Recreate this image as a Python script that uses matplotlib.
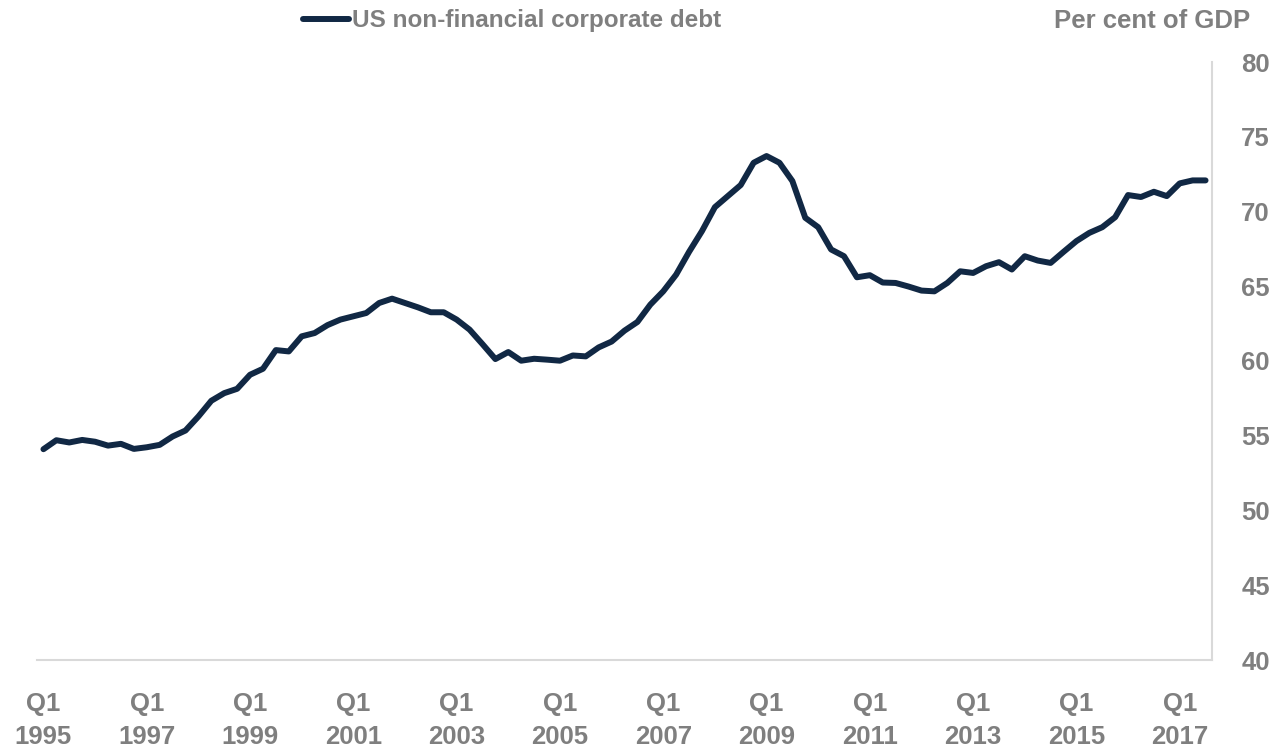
import numpy as np
import matplotlib.pyplot as plt

# US non-financial corporate debt, per cent of GDP, quarterly 1995 Q1 - 2017 Q3
debt = [54.1, 54.7, 54.55, 54.72, 54.6, 54.34, 54.46, 54.12, 54.23, 54.39,
        54.95, 55.35, 56.29, 57.34, 57.85, 58.14, 59.08, 59.48, 60.73, 60.64,
        61.65, 61.87, 62.4, 62.77, 62.99, 63.21, 63.88, 64.17, 63.88, 63.59,
        63.26, 63.26, 62.77, 62.1, 61.13, 60.13, 60.6, 60.02, 60.15, 60.09,
        60.02, 60.37, 60.31, 60.91, 61.3, 62.03, 62.61, 63.77, 64.66, 65.78,
        67.3, 68.69, 70.29, 71.03, 71.77, 73.26, 73.71, 73.26, 72.04, 69.58,
        68.95, 67.46, 67.01, 65.6, 65.74, 65.25, 65.22, 64.98, 64.71, 64.66,
        65.22, 66.0, 65.89, 66.34, 66.61, 66.12, 67.01, 66.72, 66.56, 67.3,
        68.02, 68.57, 68.95, 69.62, 71.1, 70.97, 71.32, 71.03, 71.88, 72.08,
        72.08]
quarters = [f'Q{q}\n{y}' for y in range(1995, 2018) for q in range(1, 5)][:len(debt)]
yticks = [40, 45, 50, 55, 60, 65, 70, 75, 80]

navy = '#112844'
grey = '#7f7f7f'
plt.rcParams['font.family'] = ['Liberation Sans', 'DejaVu Sans']
plt.rcParams['font.weight'] = 'bold'

fig = plt.figure(figsize=(12.79, 7.53), dpi=100)
ax = fig.add_axes([37/1279, 93/753, 1175/1279, 598/753])

x = np.arange(len(debt))
ax.plot(x, debt, color=navy, lw=4.3, solid_joinstyle='round',
        solid_capstyle='round', label='US non-financial corporate debt')

ax.set_xlim(-0.5, len(debt) - 0.5)
ax.set_ylim(40, 80)
ax.set_xticks(x[::8])
ax.set_xticklabels(quarters[::8], fontsize=18.5, color=grey, fontweight='bold',
                   linespacing=1.5)
ax.set_yticks(yticks)
ax.set_yticklabels([str(v) for v in yticks], fontsize=18.5, color=grey, fontweight='bold')
ax.yaxis.tick_right()
ax.tick_params(axis='both', length=0)
ax.tick_params(axis='x', pad=23)
ax.tick_params(axis='y', pad=21)

for s in ['left', 'top']:
    ax.spines[s].set_visible(False)
for s in ['bottom', 'right']:
    ax.spines[s].set_color('#d9d9d9')
    ax.spines[s].set_linewidth(1.5)

leg = fig.legend(loc='center left', bbox_to_anchor=(303/1279, 1 - 21/753),
                 frameon=False, fontsize=17.5, handlelength=1.9, handletextpad=0.1,
                 borderpad=0, borderaxespad=0)
for t in leg.get_texts():
    t.set_color(grey)
    t.set_fontweight('bold')

fig.text(1250/1279, 1 - 21/753, 'Per cent of GDP', ha='right', va='center',
         fontsize=18.5, color=grey, fontweight='bold')

fig.savefig('out.png', dpi=100)
